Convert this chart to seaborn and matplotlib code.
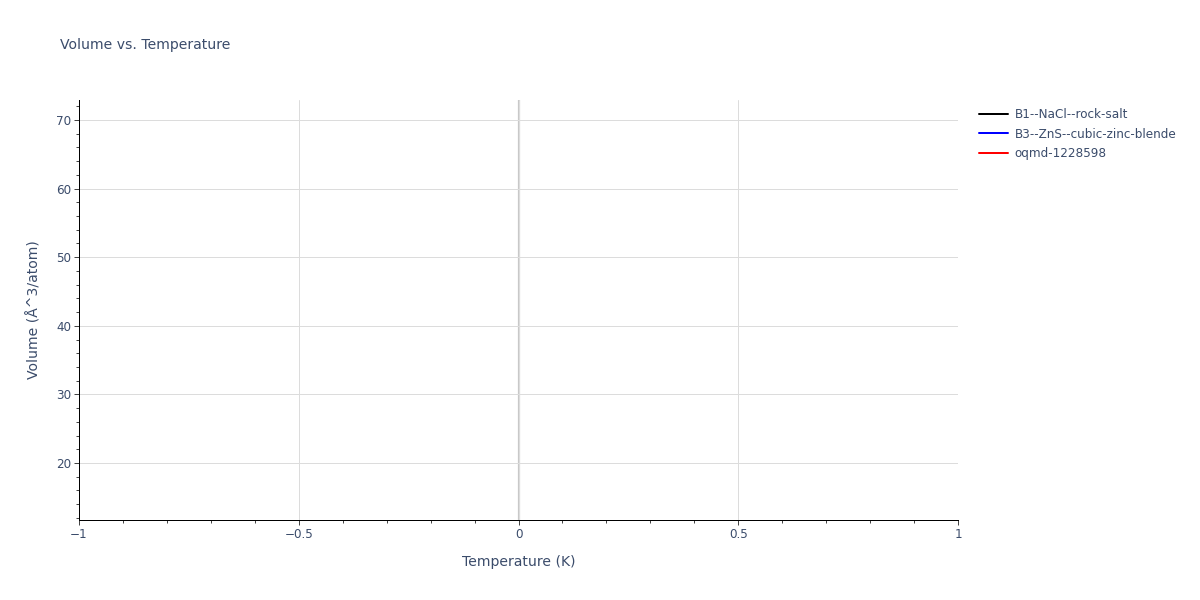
import seaborn as sns
import matplotlib.pyplot as plt
from matplotlib.ticker import MultipleLocator

# series in the legend, none of them has points inside the shown range
series_names = ['B1--NaCl--rock-salt', 'B3--ZnS--cubic-zinc-blende', 'oqmd-1228598']
series_colors = ['black', 'blue', 'red']
temperatures = [[], [], []]
volumes = [[], [], []]

x_range = (-1, 1)
y_range = (11.7, 72.9)
x_ticks = [-1, -0.5, 0, 0.5, 1]
x_ticklabels = ['\u22121', '\u22120.5', '0', '0.5', '1']
y_ticks = [20, 30, 40, 50, 60, 70]

sns.set_style('white')
plt.rcParams['font.family'] = ['DejaVu Sans']
txt = '#3b4c6b'

fig = plt.figure(figsize=(1200 / 72, 600 / 72), dpi=72)
ax = fig.add_axes([79 / 1200, 1 - 520 / 600, (958 - 79) / 1200, 420 / 600])

for name, col, t, v in zip(series_names, series_colors, temperatures, volumes):
    ax.plot(t, v, color=col, lw=2, label=name)

ax.set_xlim(*x_range)
ax.set_ylim(*y_range)
ax.set_xticks(x_ticks)
ax.set_xticklabels(x_ticklabels)
ax.set_yticks(y_ticks)
ax.xaxis.set_minor_locator(MultipleLocator(0.1))
ax.yaxis.set_minor_locator(MultipleLocator(2))

ax.grid(True, which='major', color='#dcdcdc', lw=1)
ax.axvline(0, color='#c8c8c8', lw=2.2, zorder=0.5)
ax.set_axisbelow(True)

for s in ['top', 'right']:
    ax.spines[s].set_visible(False)
for s in ['left', 'bottom']:
    ax.spines[s].set_color('black')
    ax.spines[s].set_linewidth(1)

ax.tick_params(which='major', direction='out', length=5, width=1, color='#444444',
               labelsize=12, labelcolor=txt, pad=3, left=True, bottom=True)
ax.tick_params(which='minor', direction='out', length=3, width=1, color='#444444',
               left=True, bottom=True)

ax.set_xlabel('Temperature (K)', fontsize=14, color=txt, labelpad=14)
ax.set_ylabel('Volume (Å^3/atom)', fontsize=14, color=txt, labelpad=14)
fig.text(60 / 1200, 1 - 45 / 600, 'Volume vs. Temperature', fontsize=14,
         color=txt, va='center', ha='left')

leg = ax.legend(loc='upper left', bbox_to_anchor=(974 / 1200, 1 - 103 / 600),
                bbox_transform=fig.transFigure, frameon=False, fontsize=12,
                handlelength=2.4, handletextpad=0.6, labelspacing=0.56,
                borderaxespad=0)
for t in leg.get_texts():
    t.set_color(txt)

fig.savefig('out.png', dpi=72)
